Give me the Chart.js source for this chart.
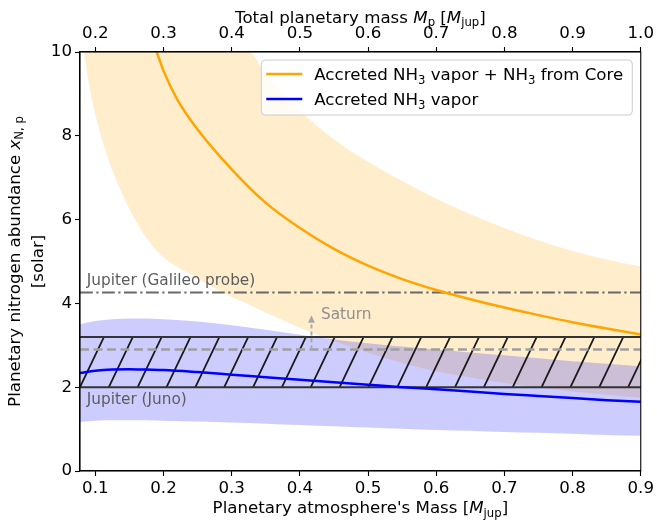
<!DOCTYPE html>
<html>
<head>
<meta charset="utf-8">
<script src="https://cdn.jsdelivr.net/npm/chart.js@4.4.1/dist/chart.umd.min.js"></script>
<style>
html, body { margin: 0; padding: 0; background: #fff; }
#wrap { width: 657px; height: 523px; position: relative; }
</style>
</head>
<body>
<div id="wrap"><canvas id="chart"></canvas></div>
<script>
// ==========================
// DATA
// ==========================
const X_MIN = 0.0775, X_MAX = 0.9;
const MASS_OFFSET = 0.1;           // total mass = atmosphere mass + 0.1 Mjup
const bottomTicks = [0.1, 0.2, 0.3, 0.4, 0.5, 0.6, 0.7, 0.8, 0.9];
const topTicks = [0.2, 0.3, 0.4, 0.5, 0.6, 0.7, 0.8, 0.9, 1.0];
const yTicks = [0, 2, 4, 6, 8, 10];

// accreted vapor + core (orange)
const coreX = [0.19, 0.2, 0.22, 0.25, 0.3, 0.35, 0.4, 0.45, 0.5, 0.55, 0.6, 0.65, 0.7, 0.75, 0.8, 0.85, 0.9];
const coreY = [10.0, 9.55, 8.87, 8.15, 7.2, 6.4, 5.8, 5.3, 4.9, 4.58, 4.32, 4.1, 3.9, 3.72, 3.55, 3.4, 3.26];

const coreBandX = [0.0835, 0.09, 0.1, 0.12, 0.14, 0.16, 0.18, 0.2, 0.25, 0.3, 0.326, 0.35, 0.4, 0.45, 0.5, 0.55, 0.6, 0.65, 0.7, 0.75, 0.8, 0.85, 0.9];
const coreHigh = [10, 10, 10, 10, 10, 10, 10, 10, 10, 10, 10, 9.45, 8.6, 7.92, 7.38, 6.92, 6.5, 6.13, 5.8, 5.5, 5.25, 5.05, 4.88];
const coreLow = [10, 9.3, 8.5, 7.4, 6.6, 5.95, 5.45, 5.1, 4.6, 4.15, 3.97, 3.78, 3.42, 3.1, 2.82, 2.58, 2.38, 2.23, 2.1, 1.99, 1.9, 1.82, 1.75];

// accreted vapor only (blue)
const vaporX = [0.0775, 0.1, 0.125, 0.15, 0.175, 0.2, 0.25, 0.3, 0.35, 0.4, 0.45, 0.5, 0.55, 0.6, 0.65, 0.7, 0.75, 0.8, 0.85, 0.9];
const vaporY = [2.34, 2.39, 2.42, 2.43, 2.42, 2.41, 2.36, 2.3, 2.24, 2.18, 2.12, 2.06, 2.0, 1.95, 1.9, 1.84, 1.79, 1.74, 1.69, 1.65];
const vaporHigh = [3.5, 3.58, 3.62, 3.64, 3.64, 3.62, 3.57, 3.48, 3.37, 3.25, 3.14, 3.05, 2.97, 2.9, 2.83, 2.76, 2.69, 2.62, 2.56, 2.5];
const vaporLow = [1.17, 1.2, 1.21, 1.21, 1.21, 1.2, 1.18, 1.16, 1.13, 1.1, 1.07, 1.04, 1.01, 0.98, 0.96, 0.93, 0.91, 0.89, 0.86, 0.84];

// reference levels
const galileoLevel = 4.26;
const junoRange = [2.0, 3.2];
const saturnLevel = 2.9;
const saturnArrow = { x: 0.417, from: 2.9, to: 3.72 };

const legendLabels = [
    [["Accreted NH", ""], ["3", "sub"], [" vapor + NH", ""], ["3", "sub"], [" from Core", ""]],
    [["Accreted NH", ""], ["3", "sub"], [" vapor", ""]]
];

// ==========================
// HELPERS
// ==========================
const FONT = "DejaVu Sans";
const FS = 16.67;
Chart.defaults.font.family = FONT;
Chart.defaults.color = "#000";

const pts = (xs, ys) => xs.map((x, i) => ({ x, y: ys[i] }));
const level = y => [{ x: X_MIN, y }, { x: X_MAX, y }];

function fontFor(st, size) {
    const it = st.includes("i");
    const sub = st.includes("sub");
    return (it ? "italic " : "") + (sub ? size * 0.7 : size) + 'px "' + FONT + '"';
}
function richWidth(ctx, parts, size) {
    let w = 0;
    parts.forEach(([t, st]) => { ctx.font = fontFor(st, size); w += ctx.measureText(t).width; });
    return w;
}
function drawRich(ctx, parts, x, y, size, align) {
    const w = richWidth(ctx, parts, size);
    let cx = align === "center" ? x - w / 2 : x;
    ctx.textAlign = "left";
    ctx.textBaseline = "alphabetic";
    parts.forEach(([t, st]) => {
        ctx.font = fontFor(st, size);
        ctx.fillText(t, cx, y + (st.includes("sub") ? size * 0.22 : 0));
        cx += ctx.measureText(t).width;
    });
}

// ==========================
// DECORATION PLUGIN
// ==========================
const HATCH_STEP = 28.85, HATCH_DX = 24;

const decor = {
    id: "decor",
    beforeDatasetDraw(chart, args) {
        if (args.index !== 5) return;
        const { ctx, chartArea: a, scales: { y } } = chart;
        const yTop = y.getPixelForValue(junoRange[1]);
        const yBot = y.getPixelForValue(junoRange[0]);
        ctx.save();
        ctx.beginPath();
        ctx.rect(a.left, yTop, a.width, yBot - yTop);
        ctx.clip();
        ctx.strokeStyle = "#1a1a1a";
        ctx.lineWidth = 1.8;
        ctx.beginPath();
        for (let px = a.left - 2 * HATCH_STEP; px < a.right + HATCH_STEP; px += HATCH_STEP) {
            ctx.moveTo(px, yBot);
            ctx.lineTo(px + HATCH_DX, yTop);
        }
        ctx.stroke();
        ctx.restore();
    },
    afterDatasetsDraw(chart) {
        const { ctx, scales: { x, y } } = chart;
        ctx.save();
        // labels
        ctx.fillStyle = "#5c5c5c";
        drawRich(ctx, [["Jupiter (Galileo probe)", ""]], x.getPixelForValue(0.0875), y.getPixelForValue(4.44), 15.3, "left");
        drawRich(ctx, [["Jupiter (Juno)", ""]], x.getPixelForValue(0.0875), y.getPixelForValue(1.6), 15.3, "left");
        ctx.fillStyle = "#8f8f8f";
        drawRich(ctx, [["Saturn", ""]], x.getPixelForValue(0.431), y.getPixelForValue(3.62), 15.3, "left");

        // saturn arrow
        const ax = x.getPixelForValue(saturnArrow.x);
        const y0 = y.getPixelForValue(saturnArrow.from);
        const y1 = y.getPixelForValue(saturnArrow.to);
        ctx.strokeStyle = "#a8a8a8";
        ctx.fillStyle = "#a8a8a8";
        ctx.lineWidth = 2;
        ctx.setLineDash([4, 3]);
        ctx.beginPath();
        ctx.moveTo(ax, y0);
        ctx.lineTo(ax, y1 + 6);
        ctx.stroke();
        ctx.setLineDash([]);
        ctx.beginPath();
        ctx.moveTo(ax, y1);
        ctx.lineTo(ax - 3.5, y1 + 7.5);
        ctx.lineTo(ax + 3.5, y1 + 7.5);
        ctx.closePath();
        ctx.fill();
        ctx.restore();
    },
    afterDraw(chart) {
        const { ctx, chartArea: a } = chart;
        ctx.save();
        // frame
        ctx.strokeStyle = "#000";
        ctx.lineWidth = 1.1;
        ctx.strokeRect(a.left, a.top, a.width, a.height);

        // axis titles
        ctx.fillStyle = "#000";
        const cx = (a.left + a.right) / 2;
        drawRich(ctx, [["Planetary atmosphere's Mass [", ""], ["M", "i"], ["jup", "sub"], ["]", ""]], cx, 513, FS, "center");
        drawRich(ctx, [["Total planetary mass ", ""], ["M", "i"], ["p", "sub"], [" [", ""], ["M", "i"], ["jup", "sub"], ["]", ""]], cx, 22.5, FS, "center");
        const cy = (a.top + a.bottom) / 2;
        ctx.save();
        ctx.translate(19.5, cy);
        ctx.rotate(-Math.PI / 2);
        drawRich(ctx, [["Planetary nitrogen abundance ", ""], ["x", "i"], ["N, p", "sub"]], 0, 0, FS, "center");
        ctx.restore();
        ctx.save();
        ctx.translate(43, cy);
        ctx.rotate(-Math.PI / 2);
        drawRich(ctx, [["[solar]", ""]], 0, 0, FS, "center");
        ctx.restore();

        // legend
        const textW = richWidth(ctx, legendLabels[0], FS);
        const right = a.right - 8.5, top = a.top + 8;
        const left = right - textW - 62, h = 55;
        ctx.beginPath();
        ctx.roundRect(left, top, right - left, h, 4);
        ctx.fillStyle = "rgba(255,255,255,0.8)";
        ctx.fill();
        ctx.strokeStyle = "#cccccc";
        ctx.lineWidth = 1;
        ctx.stroke();
        const colors = ["#ffa500", "#0000ff"];
        [14, 39].forEach((dy, i) => {
            ctx.strokeStyle = colors[i];
            ctx.lineWidth = 2.5;
            ctx.beginPath();
            ctx.moveTo(left + 5, top + dy);
            ctx.lineTo(left + 41, top + dy);
            ctx.stroke();
            ctx.fillStyle = "#000";
            drawRich(ctx, legendLabels[i], left + 53, top + dy + 6, FS, "left");
        });
        ctx.restore();
    }
};

// ==========================
// CHART
// ==========================
const noPts = { pointRadius: 0, pointHoverRadius: 0 };
const tickFont = { family: FONT, size: FS };
const gridOpts = { drawOnChartArea: false, drawTicks: true, tickLength: 5, tickColor: "#000", tickWidth: 1.1 };
const borderOpts = { display: true, color: "#000", width: 1.1 };

new Chart(document.getElementById("chart"), {
    type: "line",
    data: {
        datasets: [
            { data: pts(coreBandX, coreHigh), fill: "+1", backgroundColor: "rgba(255,165,0,0.2)", borderColor: "transparent", borderWidth: 0, order: 10, cubicInterpolationMode: "monotone", ...noPts },
            { data: pts(coreBandX, coreLow), fill: false, borderColor: "transparent", borderWidth: 0, order: 10, cubicInterpolationMode: "monotone", ...noPts },
            { data: pts(vaporX, vaporHigh), fill: "+1", backgroundColor: "rgba(0,0,255,0.2)", borderColor: "transparent", borderWidth: 0, order: 9, cubicInterpolationMode: "monotone", ...noPts },
            { data: pts(vaporX, vaporLow), fill: false, borderColor: "transparent", borderWidth: 0, order: 9, cubicInterpolationMode: "monotone", ...noPts },
            { data: level(junoRange[1]), fill: false, borderColor: "#333", borderWidth: 2, order: 6, ...noPts },
            { data: level(junoRange[0]), fill: false, borderColor: "#333", borderWidth: 2, order: 6, ...noPts },
            { data: level(saturnLevel), fill: false, borderColor: "#9e9e9e", borderWidth: 2.5, borderDash: [9, 4.5], order: 5, ...noPts },
            { data: level(galileoLevel), fill: false, borderColor: "#696969", borderWidth: 2.2, borderDash: [12.8, 3.5, 2.2, 3.5], order: 5, ...noPts },
            { data: pts(coreX, coreY), fill: false, borderColor: "#ffa500", borderWidth: 2.5, order: 2, cubicInterpolationMode: "monotone", ...noPts },
            { data: pts(vaporX, vaporY), fill: false, borderColor: "#0000ff", borderWidth: 2.5, order: 1, cubicInterpolationMode: "monotone", ...noPts }
        ]
    },
    options: {
        responsive: true,
        maintainAspectRatio: false,
        devicePixelRatio: 1,
        animation: false,
        events: [],
        layout: { padding: { left: 0, right: 13.5, top: 0, bottom: 0 } },
        plugins: {
            legend: { display: false },
            tooltip: { enabled: false }
        },
        scales: {
            x: {
                type: "linear", position: "bottom", min: X_MIN, max: X_MAX,
                afterBuildTicks: s => { s.ticks = bottomTicks.map(v => ({ value: v })); },
                ticks: { font: tickFont, color: "#000", padding: 3, maxRotation: 0, autoSkip: false, callback: v => v.toFixed(1) },
                grid: gridOpts, border: borderOpts,
                afterFit: s => { s.height = 52; }
            },
            x2: {
                type: "linear", position: "top", min: X_MIN + MASS_OFFSET, max: X_MAX + MASS_OFFSET,
                afterBuildTicks: s => { s.ticks = topTicks.map(v => ({ value: v })); },
                ticks: { font: tickFont, color: "#000", padding: 3, maxRotation: 0, autoSkip: false, callback: v => v.toFixed(1) },
                grid: gridOpts, border: borderOpts,
                afterFit: s => { s.height = 52; }
            },
            y: {
                type: "linear", min: 0, max: 10,
                afterBuildTicks: s => { s.ticks = yTicks.map(v => ({ value: v })); },
                ticks: { font: tickFont, color: "#000", padding: 3, callback: v => String(v) },
                grid: gridOpts, border: borderOpts,
                afterFit: s => { s.width = 80; }
            }
        }
    },
    plugins: [decor]
});
</script>
</body>
</html>
